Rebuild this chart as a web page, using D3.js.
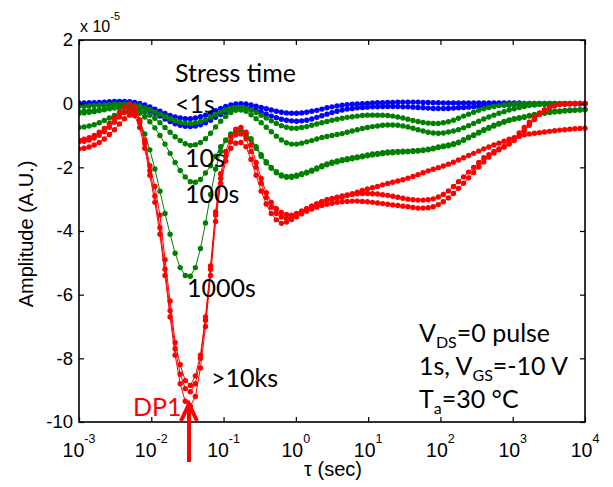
<!DOCTYPE html>
<html><head><meta charset="utf-8">
<script src="https://cdn.jsdelivr.net/npm/d3@7"></script>
<style>body{margin:0;background:#fff}</style></head>
<body>
<svg id="c" width="613" height="487"></svg>
<script>
// log10 of tau (sec)
const tauExp = [-3,-2.93,-2.86,-2.79,-2.72,-2.65,-2.58,-2.51,-2.44,-2.37,-2.3,-2.23,-2.16,-2.09,-2.02,-1.95,-1.88,-1.81,-1.74,-1.67,-1.6,-1.53,-1.46,-1.39,-1.32,-1.25,-1.18,-1.11,-1.04,-0.97,-0.9,-0.83,-0.76,-0.69,-0.62,-0.55,-0.48,-0.41,-0.34,-0.27,-0.2,-0.13,-0.06,0.01,0.08,0.15,0.22,0.29,0.36,0.43,0.5,0.57,0.64,0.71,0.78,0.85,0.92,0.99,1.06,1.13,1.2,1.27,1.34,1.41,1.48,1.55,1.62,1.69,1.76,1.83,1.9,1.97,2.04,2.11,2.18,2.25,2.32,2.39,2.46,2.53,2.6,2.67,2.74,2.81,2.88,2.95,3.02,3.09,3.16,3.23,3.3,3.37,3.44,3.51,3.58,3.65,3.72,3.79,3.86,3.93,4];

// amplitudes (x 1e-5)
const blue1 = [0.02,0.02,0.03,0.03,0.04,0.05,0.06,0.07,0.07,0.07,
0.06,0.04,0.01,-0.04,-0.10,-0.17,-0.24,-0.31,-0.37,-0.42,
-0.45,-0.47,-0.47,-0.45,-0.41,-0.36,-0.29,-0.22,-0.15,-0.09,
-0.04,-0.01,0.00,-0.01,-0.04,-0.08,-0.12,-0.16,-0.20,-0.24,
-0.27,-0.29,-0.30,-0.30,-0.29,-0.27,-0.24,-0.21,-0.17,-0.13,
-0.10,-0.07,-0.05,-0.03,-0.02,-0.01,0.00,0.01,0.02,0.03,
0.03,0.04,0.04,0.05,0.05,0.05,0.05,0.05,0.04,0.04,
0.03,0.03,0.02,0.02,0.02,0.02,0.02,0.02,0.02,0.02,
0.02,0.02,0.02,0.02,0.02,0.02,0.02,0.02,0.01,0.01,
0.01,0.01,0.01,0.01,0.01,0.00,0.00,0.00,0.00,0.00,0.00];
const blue2 = [-0.03,-0.03,-0.02,-0.02,-0.01,0.00,0.01,0.02,0.02,0.01,
0.00,-0.03,-0.08,-0.14,-0.22,-0.30,-0.39,-0.48,-0.56,-0.63,
-0.68,-0.71,-0.72,-0.70,-0.66,-0.60,-0.52,-0.43,-0.34,-0.26,
-0.19,-0.14,-0.12,-0.13,-0.16,-0.21,-0.27,-0.33,-0.39,-0.44,
-0.49,-0.52,-0.54,-0.55,-0.54,-0.52,-0.48,-0.43,-0.38,-0.33,
-0.28,-0.24,-0.20,-0.17,-0.15,-0.13,-0.12,-0.11,-0.10,-0.10,
-0.09,-0.09,-0.09,-0.09,-0.10,-0.10,-0.11,-0.12,-0.13,-0.14,
-0.15,-0.15,-0.15,-0.15,-0.14,-0.13,-0.12,-0.11,-0.10,-0.09,
-0.08,-0.07,-0.06,-0.05,-0.04,-0.04,-0.03,-0.03,-0.02,-0.02,
-0.02,-0.01,-0.01,-0.01,-0.01,-0.01,0.00,0.00,0.00,0.00,0.00];
const greenA = [-0.08,-0.08,-0.07,-0.06,-0.05,-0.04,-0.03,-0.02,-0.02,-0.02,
-0.03,-0.05,-0.08,-0.13,-0.19,-0.26,-0.33,-0.40,-0.47,-0.53,
-0.58,-0.61,-0.62,-0.60,-0.56,-0.50,-0.42,-0.34,-0.26,-0.20,
-0.15,-0.13,-0.13,-0.15,-0.20,-0.28,-0.36,-0.45,-0.54,-0.62,
-0.69,-0.74,-0.77,-0.77,-0.75,-0.72,-0.68,-0.64,-0.60,-0.56,
-0.52,-0.49,-0.46,-0.43,-0.41,-0.39,-0.37,-0.36,-0.36,-0.36,
-0.36,-0.37,-0.39,-0.42,-0.45,-0.49,-0.53,-0.56,-0.59,-0.61,
-0.62,-0.62,-0.60,-0.57,-0.52,-0.46,-0.39,-0.33,-0.27,-0.21,
-0.16,-0.12,-0.09,-0.06,-0.04,-0.02,-0.01,0.00,0.01,0.01,
0.01,0.01,0.01,0.01,0.01,0.01,0.01,0.01,0.01,0.01,0.01];
const greenB = [-0.25,-0.24,-0.23,-0.21,-0.19,-0.16,-0.13,-0.11,-0.10,-0.10,
-0.12,-0.15,-0.20,-0.27,-0.36,-0.46,-0.60,-0.75,-0.90,-1.04,
-1.16,-1.26,-1.31,-1.29,-1.22,-1.10,-0.93,-0.73,-0.55,-0.40,
-0.28,-0.21,-0.20,-0.24,-0.35,-0.47,-0.60,-0.74,-0.88,-1.02,
-1.14,-1.23,-1.27,-1.27,-1.24,-1.20,-1.16,-1.11,-1.06,-1.03,
-1.00,-0.97,-0.94,-0.90,-0.86,-0.82,-0.78,-0.75,-0.72,-0.70,
-0.68,-0.67,-0.67,-0.68,-0.70,-0.73,-0.77,-0.82,-0.86,-0.90,
-0.92,-0.93,-0.92,-0.89,-0.86,-0.82,-0.76,-0.69,-0.62,-0.55,
-0.48,-0.42,-0.36,-0.30,-0.25,-0.20,-0.16,-0.12,-0.09,-0.06,
-0.04,-0.03,-0.02,-0.01,0.00,0.00,0.01,0.01,0.01,0.01,0.01];
const greenC = [-0.30,-0.29,-0.27,-0.25,-0.22,-0.19,-0.16,-0.14,-0.13,-0.14,
-0.17,-0.22,-0.30,-0.42,-0.57,-0.76,-1.00,-1.27,-1.56,-1.85,
-2.10,-2.30,-2.45,-2.47,-2.38,-2.18,-1.95,-1.65,-1.35,-1.15,
-1.00,-0.85,-0.84,-0.95,-1.10,-1.35,-1.60,-1.82,-2.00,-2.14,
-2.24,-2.29,-2.28,-2.25,-2.20,-2.15,-2.09,-2.02,-1.95,-1.89,
-1.84,-1.80,-1.76,-1.73,-1.70,-1.67,-1.64,-1.61,-1.58,-1.56,
-1.54,-1.52,-1.51,-1.50,-1.49,-1.49,-1.48,-1.47,-1.45,-1.43,
-1.40,-1.36,-1.33,-1.30,-1.26,-1.21,-1.13,-1.05,-0.98,-0.90,
-0.82,-0.75,-0.68,-0.62,-0.56,-0.51,-0.47,-0.44,-0.41,-0.37,
-0.34,-0.31,-0.28,-0.26,-0.24,-0.23,-0.21,-0.20,-0.20,-0.19,-0.18];
const greenD = [-0.75,-0.73,-0.70,-0.66,-0.60,-0.53,-0.45,-0.37,-0.30,-0.26,
-0.27,-0.35,-0.55,-0.95,-1.45,-2.05,-2.75,-3.45,-4.10,-4.70,
-5.15,-5.40,-5.42,-5.15,-4.55,-3.75,-2.85,-2.05,-1.50,-1.15,
-0.95,-0.87,-0.88,-0.98,-1.14,-1.40,-1.65,-1.86,-2.03,-2.17,
-2.27,-2.31,-2.31,-2.28,-2.23,-2.18,-2.12,-2.05,-1.98,-1.92,
-1.87,-1.83,-1.79,-1.76,-1.73,-1.70,-1.67,-1.64,-1.61,-1.59,
-1.57,-1.55,-1.54,-1.53,-1.52,-1.51,-1.50,-1.49,-1.47,-1.45,
-1.42,-1.38,-1.35,-1.32,-1.28,-1.23,-1.15,-1.07,-1.00,-0.92,
-0.84,-0.77,-0.70,-0.64,-0.58,-0.53,-0.49,-0.46,-0.43,-0.39,
-0.36,-0.33,-0.30,-0.28,-0.26,-0.25,-0.23,-0.22,-0.21,-0.20,-0.19];
const red1 = [-1.15,-1.12,-1.07,-1.00,-0.90,-0.78,-0.62,-0.45,-0.27,-0.10,
0.00,-0.10,-0.50,-1.15,-1.95,-2.60,-3.50,-4.90,-6.20,-7.50,
-8.20,-8.70,-8.85,-8.55,-7.90,-6.70,-5.10,-3.40,-2.20,-1.50,
-1.05,-0.80,-0.75,-0.90,-1.30,-1.85,-2.35,-2.80,-3.10,-3.30,
-3.42,-3.48,-3.50,-3.45,-3.38,-3.30,-3.22,-3.15,-3.08,-3.03,
-3.00,-2.97,-2.93,-2.88,-2.83,-2.78,-2.73,-2.68,-2.64,-2.60,
-2.55,-2.51,-2.47,-2.43,-2.39,-2.34,-2.29,-2.23,-2.17,-2.11,
-2.06,-2.01,-1.96,-1.90,-1.84,-1.77,-1.70,-1.63,-1.56,-1.49,
-1.42,-1.36,-1.30,-1.24,-1.18,-1.12,-1.07,-1.02,-0.98,-0.95,
-0.93,-0.91,-0.89,-0.87,-0.85,-0.83,-0.82,-0.80,-0.79,-0.78,-0.77];
const red2 = [-1.20,-1.18,-1.14,-1.08,-0.99,-0.88,-0.74,-0.58,-0.42,-0.28,
-0.20,-0.25,-0.60,-1.25,-2.10,-2.90,-3.90,-5.20,-6.50,-7.70,
-8.50,-8.95,-9.05,-8.80,-8.00,-6.80,-5.20,-3.50,-2.35,-1.65,
-1.20,-0.98,-0.95,-1.10,-1.50,-2.00,-2.50,-2.95,-3.25,-3.45,
-3.56,-3.60,-3.55,-3.47,-3.38,-3.30,-3.22,-3.15,-3.08,-3.02,
-2.98,-2.94,-2.90,-2.87,-2.85,-2.83,-2.82,-2.82,-2.83,-2.84,
-2.86,-2.88,-2.91,-2.94,-2.97,-3.00,-3.02,-3.03,-3.03,-3.02,
-2.99,-2.93,-2.85,-2.74,-2.60,-2.45,-2.30,-2.15,-2.00,-1.85,
-1.70,-1.60,-1.50,-1.42,-1.35,-1.27,-1.16,-1.02,-0.86,-0.68,
-0.50,-0.34,-0.22,-0.13,-0.07,-0.03,-0.01,0.00,0.01,0.01,0.01];
const red3 = [-1.42,-1.40,-1.36,-1.30,-1.22,-1.11,-0.97,-0.82,-0.64,-0.47,
-0.36,-0.38,-0.75,-1.40,-2.25,-3.10,-4.10,-5.40,-6.70,-7.90,
-8.80,-9.35,-9.50,-9.20,-8.30,-7.00,-5.40,-3.70,-2.50,-1.80,
-1.40,-1.24,-1.22,-1.35,-1.75,-2.25,-2.75,-3.15,-3.45,-3.65,
-3.76,-3.72,-3.64,-3.55,-3.46,-3.38,-3.31,-3.25,-3.20,-3.16,
-3.13,-3.10,-3.08,-3.07,-3.06,-3.06,-3.07,-3.08,-3.10,-3.12,
-3.14,-3.16,-3.18,-3.20,-3.22,-3.24,-3.26,-3.28,-3.28,-3.27,
-3.24,-3.17,-3.08,-2.96,-2.82,-2.66,-2.50,-2.33,-2.16,-1.99,
-1.83,-1.68,-1.55,-1.45,-1.36,-1.24,-1.09,-0.92,-0.75,-0.58,
-0.42,-0.29,-0.19,-0.11,-0.06,-0.03,-0.01,0.00,0.00,0.00,0.00];

const xTickExps = [-3,-2,-1,0,1,2,3,4];
const yTicks = [-10,-8,-6,-4,-2,0,2];

const seriesList = [
  {values: blue1, color: "#0000ff"},
  {values: blue2, color: "#0000ff"},
  {values: greenA, color: "#008000"},
  {values: greenB, color: "#008000"},
  {values: greenC, color: "#008000"},
  {values: greenD, color: "#008000"},
  {values: red1, color: "#ff0000"},
  {values: red2, color: "#ff0000"},
  {values: red3, color: "#ff0000"}
];

const svg = d3.select("#c");
const L = 79, R = 585, T = 40, B = 422;
const x = d3.scaleLog().domain([1e-3, 1e4]).range([L, R]);
const y = d3.scaleLinear().domain([-10, 2]).range([B, T]);
const tau = tauExp.map(e => Math.pow(10, e));

const clipId = "plotclip";
svg.append("clipPath").attr("id", clipId).append("rect")
  .attr("x", L).attr("y", T - 4).attr("width", R - L + 4).attr("height", B - T + 8);

const plot = svg.append("g").attr("clip-path", `url(#${clipId})`);
const line = d3.line().x((d, i) => x(tau[i])).y(d => y(d));
seriesList.forEach(s => {
  const g = plot.append("g");
  g.append("path").datum(s.values).attr("d", line)
    .attr("fill", "none").attr("stroke", s.color).attr("stroke-width", 1);
  g.selectAll("circle").data(s.values).join("circle")
    .attr("cx", (d, i) => x(tau[i])).attr("cy", d => y(d))
    .attr("r", 2.7).attr("fill", s.color);
});

// axes with inward ticks
const xt = xTickExps.map(e => Math.pow(10, e));
const axStyle = g => { g.select(".domain").remove(); g.selectAll("line").attr("stroke", "#000").attr("stroke-width", 1.2); };
svg.append("g").attr("transform", `translate(0,${B})`)
  .call(d3.axisBottom(x).tickValues(xt).tickSize(-5).tickFormat("")).call(axStyle);
svg.append("g").attr("transform", `translate(0,${T})`)
  .call(d3.axisTop(x).tickValues(xt).tickSize(-5).tickFormat("")).call(axStyle);
svg.append("g").attr("transform", `translate(${L},0)`)
  .call(d3.axisLeft(y).tickValues(yTicks).tickSize(-5).tickFormat("")).call(axStyle);
svg.append("g").attr("transform", `translate(${R},0)`)
  .call(d3.axisRight(y).tickValues(yTicks).tickSize(-5).tickFormat("")).call(axStyle);
svg.append("rect").attr("x", L).attr("y", T).attr("width", R - L).attr("height", B - T)
  .attr("fill", "none").attr("stroke", "#000").attr("stroke-width", 1.6);

const tickFont = "'Liberation Sans', Arial, sans-serif";
// y tick labels
svg.append("g").selectAll("text").data(yTicks).join("text")
  .attr("x", L - 6).attr("y", d => y(d)).attr("dy", "0.35em")
  .attr("text-anchor", "end").attr("font-family", tickFont).attr("font-size", 18.5)
  .text(d => String(d));
// x tick labels 10^n
const xl = svg.append("g").selectAll("text").data(xTickExps).join("text")
  .attr("x", d => x(Math.pow(10, d))).attr("y", 457)
  .attr("text-anchor", "middle").attr("font-family", tickFont).attr("font-size", 19.5);
xl.append("tspan").text("10");
xl.append("tspan").attr("font-size", 12.5).attr("dy", -14).text(d => String(d));

// multiplier
const mult = svg.append("text").attr("x", 80).attr("y", 32)
  .attr("font-family", tickFont).attr("font-size", 16);
mult.append("tspan").text("x 10");
mult.append("tspan").attr("font-size", 11).attr("dy", -12).text("-5");

// axis titles
svg.append("text").attr("transform", "translate(33,234) rotate(-90)")
  .attr("text-anchor", "middle").attr("font-family", tickFont).attr("font-size", 20)
  .text("Amplitude (A.U.)");
svg.append("text").attr("x", 333).attr("y", 476)
  .attr("text-anchor", "middle").attr("font-family", tickFont).attr("font-size", 20)
  .text("τ (sec)");

// annotations
const annFont = "Lato, 'Open Sans', sans-serif";
const annSize = 25;
const ann = (tx, ty, txt, col) => svg.append("text").attr("x", tx).attr("y", ty)
  .attr("font-family", annFont).attr("font-size", annSize).attr("fill", col || "#000").text(txt);
ann(175, 81.5, "Stress time");
ann(175, 113, "<1s");
ann(185, 166.5, "10s");
ann(185, 203, "100s");
ann(187, 297, "1000s");
ann(211, 387, ">10ks");
ann(133, 416, "DP1", "#ff0000");

const sub = (tx, ty, parts) => {
  const t = svg.append("text").attr("x", tx).attr("y", ty)
    .attr("font-family", annFont).attr("font-size", annSize);
  parts.forEach(p => {
    const s = t.append("tspan").text(p.t);
    if (p.sub) s.attr("font-size", 16).attr("dy", 6);
    else if (p.back) s.attr("dy", -6);
  });
};
sub(419, 342, [{t:"V"},{t:"DS",sub:true},{t:"=0 pulse",back:true}]);
sub(419, 375, [{t:"1s, V"},{t:"GS",sub:true},{t:"=-10 V",back:true}]);
sub(419, 408, [{t:"T"},{t:"a",sub:true},{t:"=30 °C",back:true}]);

// DP1 arrow
svg.append("line").attr("x1", 189).attr("x2", 189).attr("y1", 404).attr("y2", 462)
  .attr("stroke", "#ff0000").attr("stroke-width", 4);
svg.append("polyline").attr("points", "181,421 189,404 197,421")
  .attr("fill", "none").attr("stroke", "#ff0000").attr("stroke-width", 4)
  .attr("stroke-linejoin", "miter");
</script>
</body></html>
